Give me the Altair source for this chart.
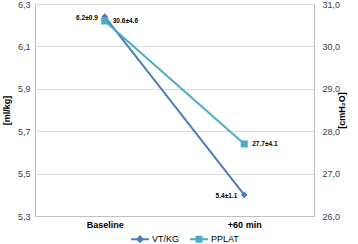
import altair as alt
import pandas as pd

categories = ["Baseline", "+60 min"]
vt_values = [6.24, 5.40]
pplat_values = [30.6, 27.7]
vt_labels = ["6.2±0.9", "5.4±1.1"]
pplat_labels = ["30.6±4.6", "27.7±4.1"]
series_names = ["VT/KG", "PPLAT"]
series_colors = ["#4A7EBB", "#4BACC6"]
left_ticks = [5.3, 5.5, 5.7, 5.9, 6.1, 6.3]
right_ticks = [26, 27, 28, 29, 30, 31]

vt_df = pd.DataFrame({"cat": categories, "value": vt_values, "label": vt_labels, "series": "VT/KG"})
pp_df = pd.DataFrame({"cat": categories, "value": pplat_values, "label": pplat_labels, "series": "PPLAT"})

FONT = "Liberation Sans"
comma_expr = "replace(format(datum.value, '.1f'), '.', ',')"

x_enc = alt.X(
    "cat:N", sort=categories,
    scale=alt.Scale(type="point", padding=0.5),
    axis=alt.Axis(title=None, labelAngle=0, ticks=False, labelFontWeight="bold",
                  labelFontSize=9, labelColor="#000000", labelPadding=4,
                  domainColor="#BFBFBF", grid=False),
)
color_scale = alt.Scale(domain=series_names, range=series_colors)

y_left = alt.Y(
    "value:Q",
    scale=alt.Scale(domain=[5.3, 6.3], zero=False, nice=False),
    axis=alt.Axis(orient="left", values=left_ticks, labelExpr=comma_expr, ticks=False,
                  grid=True, gridColor="#D9D9D9", domainColor="#BFBFBF",
                  title="[ml/kg]", titleAngle=270, titleFontWeight="bold",
                  titleFontSize=9, titleColor="#000000", titlePadding=6,
                  labelPadding=5),
)
y_right = alt.Y(
    "value:Q",
    scale=alt.Scale(domain=[26, 31], zero=False, nice=False),
    axis=alt.Axis(orient="right", values=right_ticks, labelExpr=comma_expr, ticks=False,
                  grid=False, domainColor="#BFBFBF",
                  title="[cmH₂O]", titleAngle=270, titleFontWeight="bold",
                  titleFontSize=9, titleColor="#000000", titlePadding=7,
                  labelPadding=8),
)

path_vt = "M-1,0L1,0M0,-0.3L0.3,0L0,0.3L-0.3,0Z"
path_pp = "M-1,0L1,0M-0.27,-0.27L0.27,-0.27L0.27,0.27L-0.27,0.27Z"
leg = alt.Legend(
    title=None, orient="none", legendX=95, legendY=225, direction="horizontal",
    symbolType=path_vt, symbolSize=324, symbolStrokeWidth=2, labelFontSize=9,
    labelColor="#000000", labelFont=FONT, columnPadding=6, labelOffset=2,
)
color_enc = alt.Color("series:N", scale=color_scale, legend=leg)

vt_base = alt.Chart(vt_df)
vt_line = vt_base.mark_line(strokeWidth=2).encode(x=x_enc, y=y_left, color=color_enc)
vt_pts = vt_base.mark_point(shape="diamond", filled=True, size=45, opacity=1).encode(
    x=x_enc, y=y_left, color=color_enc)
vt_text = vt_base.mark_text(align="right", dx=-7, dy=1, fontWeight="bold", fontSize=6.5,
                            font=FONT, color="#000000").encode(
    x=x_enc, y=y_left, text="label:N")
legend_layer = vt_base.mark_point(filled=True, opacity=0).encode(
    x=x_enc, y=y_left, color=color_enc,
    shape=alt.Shape("series:N", scale=alt.Scale(domain=series_names, range=[path_vt, path_pp]),
                    legend=leg),
)

pp_base = alt.Chart(pp_df)
pp_line = pp_base.mark_line(strokeWidth=2).encode(x=x_enc, y=y_right, color=color_enc)
pp_pts = pp_base.mark_point(shape="square", filled=True, size=50, opacity=1).encode(
    x=x_enc, y=y_right, color=color_enc)
pp_text = pp_base.mark_text(align="left", dx=8, dy=0, fontWeight="bold", fontSize=6.5,
                            font=FONT, color="#000000").encode(
    x=x_enc, y=y_right, text="label:N")

left = alt.layer(vt_line, vt_pts, vt_text, legend_layer)
right = alt.layer(pp_line, pp_pts, pp_text)

chart = alt.layer(left, right).resolve_scale(y="independent").properties(
    width=279, height=212,
    autosize=alt.AutoSizeParams(type="none"),
    padding={"left": 35, "top": 4, "right": 44, "bottom": 28},
).configure_view(stroke=None).configure_axis(
    labelFont=FONT, titleFont=FONT, labelFontSize=9, labelColor="#404040"
).configure_text(font=FONT)

chart.save("out.html", embed_options={"renderer": "svg", "actions": False})
